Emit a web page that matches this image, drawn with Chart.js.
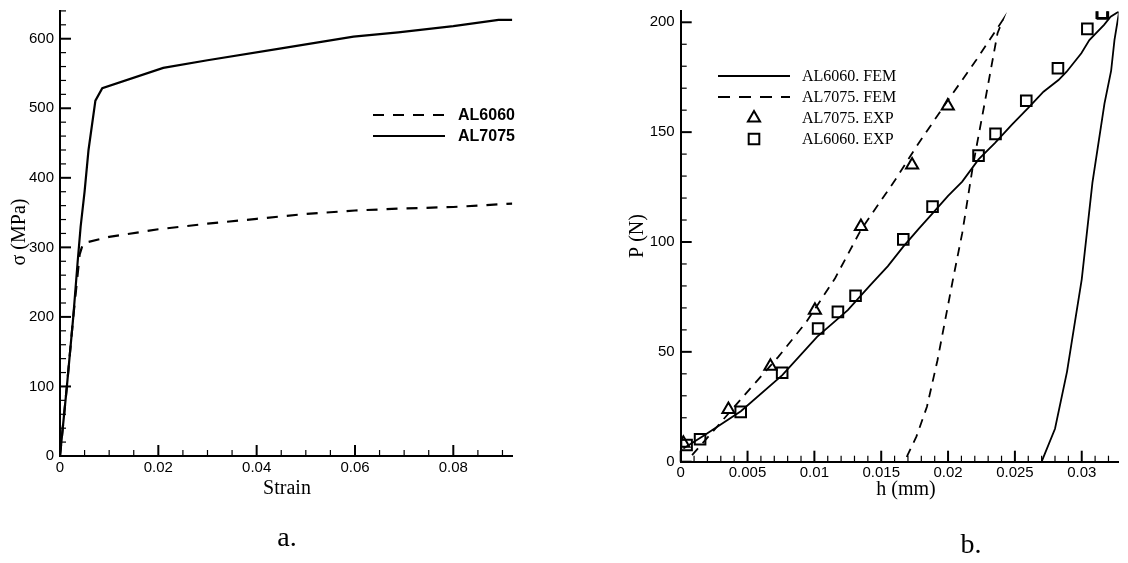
<!DOCTYPE html>
<html><head><meta charset="utf-8">
<script src="https://cdn.jsdelivr.net/npm/chart.js@4.4.0/dist/chart.umd.min.js"></script>
<style>
html,body{margin:0;padding:0;background:#fff;width:1128px;height:563px;overflow:hidden}
canvas{position:absolute;top:0}
#ca{left:0;width:560px;height:563px}
#cb{left:560px;width:568px;height:563px}
</style></head><body>
<canvas id="ca" width="560" height="563"></canvas>
<canvas id="cb" width="568" height="563"></canvas>
<script>
// ---------- Chart a: stress-strain ----------
const strainTicks = [0, 0.02, 0.04, 0.06, 0.08];
const strainTickLabels = ['0', '0.02', '0.04', '0.06', '0.08'];
const stressTicks = [0, 100, 200, 300, 400, 500, 600];
const stressTickLabels = ['0', '100', '200', '300', '400', '500', '600'];

const strainAL6060 = [0, 0.0014, 0.0027, 0.0040, 0.0047, 0.010, 0.020, 0.030, 0.040, 0.050, 0.060, 0.070, 0.080, 0.092];
const stressAL6060 = [0, 100, 200, 290, 306, 315, 326, 334, 341, 348, 353, 356, 358, 363];
const strainAL7075 = [0, 0.0014, 0.0027, 0.0036, 0.0042, 0.0050, 0.0058, 0.0072, 0.0086, 0.021, 0.030, 0.045, 0.0597, 0.0688, 0.080, 0.0892, 0.092];
const stressAL7075 = [0, 100, 200, 280, 330, 380, 440, 511, 529, 558, 569, 586, 603, 609, 618, 627, 627];

const labelA6060 = 'AL6060';
const labelA7075 = 'AL7075';
const titleStrain = 'Strain';
const titleSigma = 'σ (MPa)';
const captionA = 'a.';

// ---------- Chart b: load-depth ----------
const hTicks = [0, 0.005, 0.01, 0.015, 0.02, 0.025, 0.03];
const hTickLabels = ['0', '0.005', '0.01', '0.015', '0.02', '0.025', '0.03'];
const pTicks = [0, 50, 100, 150, 200];
const pTickLabels = ['0', '50', '100', '150', '200'];

const hFem6060Load = [0.0002, 0.0018, 0.0045, 0.0076, 0.0102, 0.0125, 0.0142, 0.0155, 0.01665, 0.0178, 0.01884, 0.0200, 0.02106, 0.02228, 0.0235, 0.02476, 0.0260, 0.02714, 0.02826, 0.02887, 0.02997, 0.03057, 0.03167, 0.03216, 0.03275];
const pFem6060Load = [6, 12.1, 23, 39.4, 56.8, 69, 80.5, 89, 97.9, 106, 113, 121, 127.5, 137.6, 145, 153.3, 161, 168.4, 173.7, 177.5, 185.9, 191.9, 198.8, 202.5, 204.8];
const hFem6060Unload = [0.0270, 0.0280, 0.0289, 0.0295, 0.0300, 0.0308, 0.0317, 0.0322, 0.03245, 0.0328];
const pFem6060Unload = [0, 15, 41, 64, 83, 127, 163, 178, 192, 205];

const hFem7075 = [0.00085, 0.00283, 0.0052, 0.0073, 0.0094, 0.01155, 0.01348, 0.01604, 0.01763, 0.0200, 0.02212, 0.0241, 0.0237, 0.02278, 0.02185, 0.02106, 0.0204, 0.01921, 0.01842, 0.01763, 0.01697, 0.01683];
const pFem7075 = [3, 16.7, 33.3, 47.7, 63.6, 83.5, 105.5, 128.2, 143.4, 164.6, 182.9, 201.1, 195, 164.6, 134.3, 104, 84, 46.2, 25, 11.4, 3, 0.8];

const hExp7075 = [0.0002, 0.00357, 0.00671, 0.01004, 0.01348, 0.01731, 0.01998];
const pExp7075 = [8.4, 23.8, 43.5, 68.9, 107, 135, 161.9];
const hExp6060 = [0.00044, 0.00145, 0.00449, 0.00759, 0.01028, 0.01176, 0.01308, 0.01665, 0.01884, 0.02228, 0.02355, 0.02585, 0.02822, 0.03042, 0.0315, 0.03158];
const pExp6060 = [7.6, 10.2, 22.7, 40.5, 60.6, 68.2, 75.5, 101.2, 116.1, 139.3, 149.2, 164.3, 179.1, 197, 204.4, 204];

const labelFem6060 = 'AL6060. FEM';
const labelFem7075 = 'AL7075. FEM';
const labelExp7075 = 'AL7075. EXP';
const labelExp6060 = 'AL6060. EXP';
const titleH = 'h (mm)';
const titleP = 'P (N)';
const captionB = 'b.';

// ---------- helpers ----------
const pts = (xs, ys) => xs.map((x, i) => ({x: x, y: ys[i]}));
const SANS = '"Liberation Sans", Arial, sans-serif';
const SERIF = '"Liberation Serif", "Times New Roman", serif';

function drawMarker(ctx, style, r, x, y) {
  ctx.beginPath();
  if (style === 'rect') {
    const s = Math.SQRT1_2 * r;
    ctx.rect(x - s, y - s, 2 * s, 2 * s);
  } else if (style === 'triangle') {
    ctx.moveTo(x, y - r);
    ctx.lineTo(x + 0.866 * r, y + 0.5 * r);
    ctx.lineTo(x - 0.866 * r, y + 0.5 * r);
    ctx.closePath();
  }
  ctx.stroke();
}

const inwardTicks = {
  id: 'inwardTicks',
  afterDraw(chart, args, o) {
    const {ctx, chartArea} = chart;
    const xs = chart.scales.x, ys = chart.scales.y;
    ctx.save();
    ctx.strokeStyle = '#000';
    const run = (scale, minor, major, horizontal) => {
      const n = Math.floor((scale.max - scale.min) / minor + 1e-6);
      for (let i = 0; i <= n; i++) {
        const v = scale.min + i * minor;
        const isMajor = Math.abs(v / major - Math.round(v / major)) < 1e-6;
        const len = isMajor ? o.majorLen : o.minorLen;
        ctx.lineWidth = isMajor ? o.majorWidth : o.minorWidth;
        const p = scale.getPixelForValue(v);
        ctx.beginPath();
        if (horizontal) {
          ctx.moveTo(p, chartArea.bottom); ctx.lineTo(p, chartArea.bottom - len);
        } else {
          ctx.moveTo(chartArea.left, p); ctx.lineTo(chartArea.left + len, p);
        }
        ctx.stroke();
      }
    };
    run(xs, o.xMinor, o.xMajor, true);
    run(ys, o.yMinor, o.yMajor, false);
    ctx.restore();
  }
};

const lineLegend = {
  id: 'lineLegend',
  afterDraw(chart, args, o) {
    const {ctx} = chart;
    o.items.forEach((idx, k) => {
      const ds = chart.data.datasets[idx];
      const y = o.y + k * o.rowGap;
      ctx.save();
      ctx.strokeStyle = '#000';
      if (ds.showLine) {
        ctx.lineWidth = o.lineWidth;
        ctx.setLineDash(o.dashes[k] || []);
        ctx.beginPath(); ctx.moveTo(o.x1, y); ctx.lineTo(o.x2, y); ctx.stroke();
      } else {
        ctx.lineWidth = ds.borderWidth;
        drawMarker(ctx, ds.pointStyle, ds.pointRadius, (o.x1 + o.x2) / 2, y);
      }
      ctx.setLineDash([]);
      ctx.fillStyle = '#000';
      ctx.font = o.font;
      ctx.textAlign = 'left';
      ctx.textBaseline = 'middle';
      ctx.fillText(ds.label, o.textX, y + 1);
      ctx.restore();
    });
  }
};

const texts = {
  id: 'texts',
  afterDraw(chart, args, o) {
    const {ctx} = chart;
    o.items.forEach(t => {
      ctx.save();
      ctx.fillStyle = '#000';
      ctx.font = t.font;
      ctx.textAlign = 'center';
      ctx.textBaseline = t.baseline || 'alphabetic';
      ctx.translate(t.x, t.y);
      if (t.rotate) ctx.rotate(t.rotate);
      ctx.fillText(t.text, 0, 0);
      ctx.restore();
    });
  }
};

function zeroPad(s) { s.paddingTop = 0; s.paddingBottom = 0; s.paddingLeft = 0; s.paddingRight = 0; }

function axisX(min, max, ticks, labels, height, pad) {
  return {
    type: 'linear', min: min, max: max,
    afterBuildTicks: s => { s.ticks = ticks.map(v => ({value: v})); },
    afterFit: s => { s.height = height; zeroPad(s); },
    grid: {display: false, drawTicks: false},
    border: {display: true, color: '#000', width: 2},
    ticks: {color: '#000', font: {family: SANS, size: 15}, padding: pad, maxRotation: 0, autoSkip: false,
            callback: (v, i) => labels[i]}
  };
}
function axisY(min, max, ticks, labels, width) {
  return {
    type: 'linear', min: min, max: max,
    afterBuildTicks: s => { s.ticks = ticks.map(v => ({value: v})); },
    afterFit: s => { s.width = width; zeroPad(s); },
    grid: {display: false, drawTicks: false},
    border: {display: true, color: '#000', width: 2},
    ticks: {color: '#000', font: {family: SANS, size: 15}, padding: 6, autoSkip: false,
            callback: (v, i) => labels[i]}
  };
}

// ---------- Chart a ----------
new Chart(document.getElementById('ca'), {
  type: 'scatter',
  data: {
    datasets: [
      {label: labelA6060, data: pts(strainAL6060, stressAL6060), showLine: true, borderColor: '#000',
       borderWidth: 2.2, borderDash: [11, 9], pointRadius: 0, fill: false, tension: 0},
      {label: labelA7075, data: pts(strainAL7075, stressAL7075), showLine: true, borderColor: '#000',
       borderWidth: 2.2, pointRadius: 0, fill: false, tension: 0}
    ]
  },
  options: {
    responsive: false, animation: false, events: [],
    layout: {padding: {left: 0, right: 47.7, top: 10.9, bottom: 0}},
    scales: {
      x: axisX(0, 0.092, strainTicks, strainTickLabels, 107, 3),
      y: axisY(0, 640, stressTicks, stressTickLabels, 60)
    },
    plugins: {
      legend: {display: false}, tooltip: {enabled: false},
      inwardTicks: {xMinor: 0.005, xMajor: 0.02, yMinor: 20, yMajor: 100, majorLen: 11, minorLen: 6, majorWidth: 2, minorWidth: 1.2},
      lineLegend: {items: [0, 1], dashes: [[11, 9], []], x1: 373, x2: 445, y: 115, rowGap: 21, textX: 458, lineWidth: 2.2,
                   font: 'bold 16px ' + SANS},
      texts: {items: [
        {text: titleSigma, x: 20, y: 232, font: '20px ' + SERIF, rotate: -Math.PI / 2, baseline: 'middle'},
        {text: titleStrain, x: 287, y: 494, font: '20px ' + SERIF},
        {text: captionA, x: 287, y: 546, font: '28px ' + SERIF}
      ]}
    }
  },
  plugins: [inwardTicks, lineLegend, texts]
});

// ---------- Chart b ----------
new Chart(document.getElementById('cb'), {
  type: 'scatter',
  data: {
    datasets: [
      {label: labelFem6060, data: pts(hFem6060Load, pFem6060Load), showLine: true, borderColor: '#000',
       borderWidth: 1.8, pointRadius: 0, fill: false, tension: 0},
      {label: labelFem7075, data: pts(hFem7075, pFem7075), showLine: true, borderColor: '#000',
       borderWidth: 1.8, borderDash: [9, 7], pointRadius: 0, fill: false, tension: 0},
      {label: labelExp7075, data: pts(hExp7075, pExp7075), showLine: false, borderColor: '#000',
       backgroundColor: 'rgba(0,0,0,0)', borderWidth: 2, pointStyle: 'triangle', pointRadius: 7},
      {label: labelExp6060, data: pts(hExp6060, pExp6060), showLine: false, borderColor: '#000',
       backgroundColor: 'rgba(0,0,0,0)', borderWidth: 2, pointStyle: 'rect', pointRadius: 7.5},
      {label: labelFem6060, data: pts(hFem6060Unload, pFem6060Unload), showLine: true, borderColor: '#000',
       borderWidth: 1.8, pointRadius: 0, fill: false, tension: 0}
    ]
  },
  options: {
    responsive: false, animation: false, events: [],
    layout: {padding: {left: 0, right: 0, top: 11.3, bottom: 0}},
    scales: {
      x: axisX(0, 0.03275, hTicks, hTickLabels, 101.3, 2),
      y: axisY(0, 205, pTicks, pTickLabels, 120.7)
    },
    plugins: {
      legend: {display: false}, tooltip: {enabled: false},
      inwardTicks: {xMinor: 0.001, xMajor: 0.005, yMinor: 10, yMajor: 50, majorLen: 11, minorLen: 6, majorWidth: 2, minorWidth: 1.2},
      lineLegend: {items: [0, 1, 2, 3], dashes: [[], [12, 9]], x1: 158, x2: 230, y: 76, rowGap: 21, textX: 242, lineWidth: 2,
                   font: '16px ' + SERIF},
      texts: {items: [
        {text: titleP, x: 78, y: 236, font: '20px ' + SERIF, rotate: -Math.PI / 2, baseline: 'middle'},
        {text: titleH, x: 346, y: 495, font: '20px ' + SERIF},
        {text: captionB, x: 411, y: 553, font: '28px ' + SERIF}
      ]}
    }
  },
  plugins: [inwardTicks, lineLegend, texts]
});
</script>
</body></html>
